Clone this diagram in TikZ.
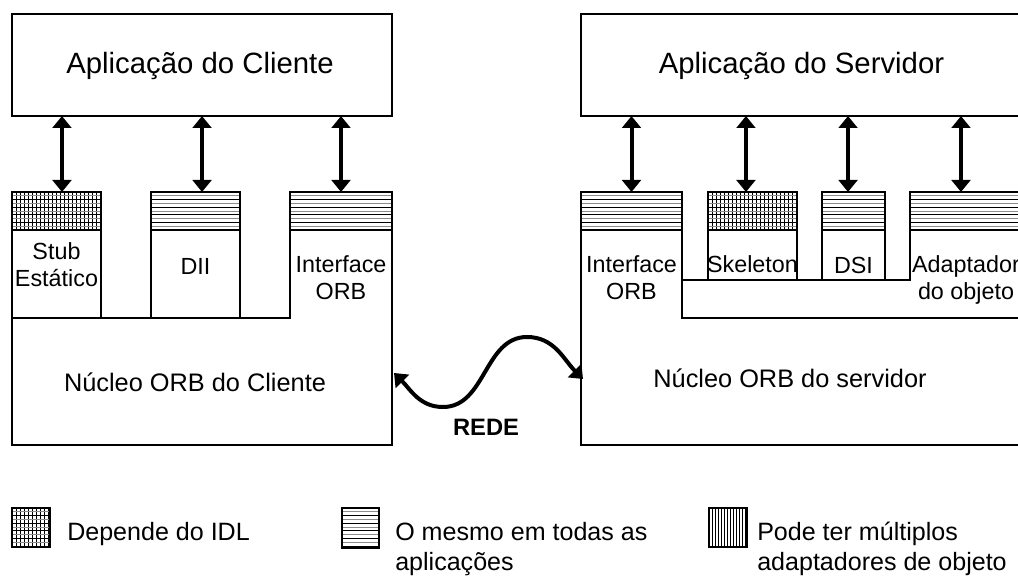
\documentclass[tikz,border=0pt]{standalone}
\usepackage{fontspec}
\setmainfont{Liberation Sans}
\usetikzlibrary{arrows.meta,fit}
\begin{document}
\begin{tikzpicture}[x=0.75pt,y=-0.75pt,
  thinline/.style={line width=0.9pt},
  region/.style={inner sep=0pt, outer sep=0pt},
  appbox/.style={region, draw, line width=2pt},
  titlelbl/.style={inner sep=0pt, font=\fontsize{22}{26}\selectfont},
  body/.style={region, draw, thinline},
  lbl/.style={inner sep=0pt, align=center, font=\fontsize{17.5}{20.25}\selectfont},
  corelbl/.style={inner sep=0pt, font=\fontsize{19}{23}\selectfont},
  legtext/.style={inner sep=0pt, align=left, font=\fontsize{18.8}{22.5}\selectfont},
  biarrow/.style={{Triangle[length=9pt,width=14pt]}-{Triangle[length=9pt,width=14pt]}, line width=3pt},
  hatchh/.style={region, draw, thinline, path picture={
      \foreach \k in {1,...,10}{
        \pgfmathtruncatemacro\shade{mod(\k,2)==0 ? 100 : 45}
        \draw[line width=0.6pt, black!\shade]
          ([yshift=-\k*2.85pt]path picture bounding box.north west) --
          ([yshift=-\k*2.85pt]path picture bounding box.north east);
      }}},
  hatchg/.style={region, draw, thinline, path picture={
      \foreach \k in {1,...,45}{
        \draw[line width=0.5pt]
          ([xshift=\k*3pt]path picture bounding box.north west) --
          ([xshift=\k*3pt]path picture bounding box.south west);
      }
      \foreach \k in {1,...,10}{
        \pgfmathtruncatemacro\shade{mod(\k,2)==0 ? 100 : 45}
        \draw[line width=0.7pt, black!\shade]
          ([yshift=-\k*2.85pt]path picture bounding box.north west) --
          ([yshift=-\k*2.85pt]path picture bounding box.north east);
      }}},
  hatchv/.style={region, draw, thinline, path picture={
      \foreach \k in {1,...,20}{
        \draw[line width=0.5pt]
          ([xshift=\k*2.3pt]path picture bounding box.north west) --
          ([xshift=\k*2.3pt]path picture bounding box.south west);
      }}}
]
\clip (0,0) rectangle (1018,577);

% application boxes
\node[appbox, fit={(12,14) (392,116)}] (capp) {};
\node[appbox, fit={(581,14) (1024,116)}] (sapp) {};
\node[titlelbl] (cappT) at (200,66) {Aplicação do Cliente};
\node[titlelbl] (sappT) at (801.5,66) {Aplicação do Servidor};

% client side
\node[hatchg, fit={(12,192) (101,230)}] (stubH) {};
\node[body, fit={(12,230) (101,318)}] (stub) {};
\node[hatchh, fit={(151,192) (240,230)}] (diiH) {};
\node[body, fit={(151,230) (240,318)}] (dii) {};
\node[hatchh, fit={(290,192) (392,230)}] (ciH) {};
\draw[thinline] (ciH.south east) -- (392,445) -- (12,445) -- (stub.south west);
\draw[thinline] (stub.south east) -- (dii.south west);
\draw[thinline] (dii.south east) -- (290,318) -- (ciH.south west);

\node[lbl] (stubL) at (56.5,265) {Stub\\Estático};
\node[lbl] (diiL) at (195.5,266) {DII};
\node[lbl] (ciL) at (341,278) {Interface\\ORB};
\node[corelbl] (ccore) at (195,382) {Núcleo ORB do Cliente};

% server side
\node[hatchh, fit={(581,192) (682,230)}] (siH) {};
\node[hatchg, fit={(708,192) (797,230)}] (skH) {};
\node[body, fit={(708,230) (797,280)}] (sk) {};
\node[hatchh, fit={(822,192) (885,230)}] (dsH) {};
\node[body, fit={(822,230) (885,280)}] (ds) {};
\node[hatchh, fit={(910,192) (1030,230)}] (adH) {};
\draw[thinline] (siH.south west) -- (581,445) -- (1030,445);
\draw[thinline] (siH.south east) -- (682,318) -- (1030,318);
\draw[thinline] (682,280) -- (sk.south west);
\draw[thinline] (sk.south east) -- (ds.south west);
\draw[thinline] (ds.south east) -- (910,280) -- (adH.south west);

\node[lbl] (siL) at (631.5,278) {Interface\\ORB};
\node[lbl] (skL) at (752.5,264.5) {Skeleton};
\node[lbl] (dsL) at (853.5,265.5) {DSI};
\node[lbl] (adL) at (966,279.5) {Adaptador\\do objeto};
\node[corelbl] (score) at (790,378) {Núcleo ORB do servidor};

% vertical arrows
\coordinate (c1) at ([xshift=4.1pt]stubH.north);
\coordinate (c2) at ([xshift=4.9pt]diiH.north);
\coordinate (c3) at (ciH.north);
\coordinate (s1) at (siH.north);
\coordinate (s2) at ([xshift=-4.9pt]skH.north);
\coordinate (s3) at ([xshift=-4.1pt]dsH.north);
\coordinate (s4) at ([xshift=-6.75pt]adH.north);
\foreach \c in {c1,c2,c3}{
  \draw[biarrow] (\c |- capp.south) -- (\c);
}
\foreach \c in {s1,s2,s3,s4}{
  \draw[biarrow] (\c |- sapp.south) -- (\c);
}

% network
\coordinate (netL) at (394,373);
\coordinate (netR) at (583,379);
\draw[biarrow] (netL) to[out=-45,in=180] (443,407) to[out=0,in=180] (527,337) to[out=0,in=135] (netR);
\node[font=\bfseries\fontsize{17.8}{20}\selectfont, inner sep=0pt] (rede) at (486,427) {REDE};

% legend
\node[hatchg, line width=1.5pt, fit={(12,508) (50,547)}] (k1) {};
\node[hatchh, line width=1.5pt, fit={(342,508) (379,548)}] (k2) {};
\node[hatchv, line width=1.5pt, fit={(709,508) (747,547)}] (k3) {};
\node[legtext, anchor=base west] (t1) at (67,540) {Depende do IDL};
\node[legtext, anchor=base west] (t2) at (395,570) {O mesmo em todas as\\aplicações};
\node[legtext, anchor=base west] (t3) at (757,570) {Pode ter múltiplos\\adaptadores de objeto};
\end{tikzpicture}
\end{document}
